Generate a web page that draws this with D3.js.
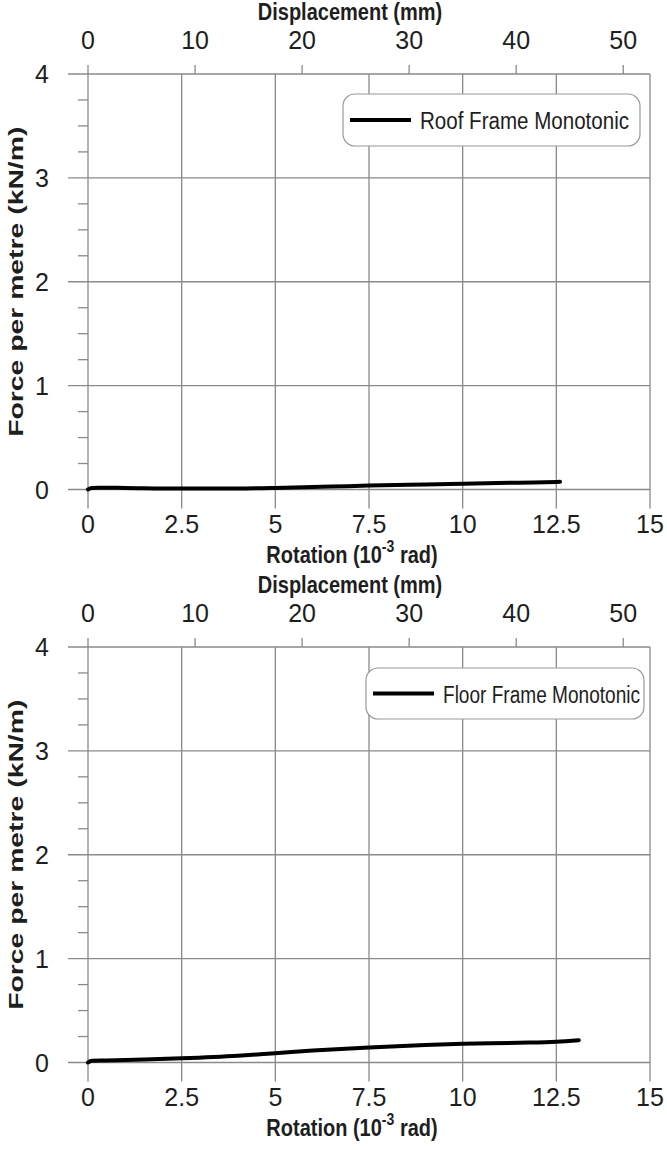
<!DOCTYPE html>
<html>
<head>
<meta charset="utf-8">
<script src="https://cdn.jsdelivr.net/npm/d3@7"></script>
<style>
  body { margin: 0; background: #fff; }
  svg text { font-family: "Liberation Sans", Arial, sans-serif; fill: #1e1e1e; }
  .tick-label { font-size: 25px; }
  .title { font-size: 20px; font-weight: bold; }
  .legend-text { font-size: 20px; }
</style>
</head>
<body>
<svg id="chart" width="667" height="1150"></svg>
<script>
// rotation (10^-3 rad) vs force per metre (kN/m)
const roofRotation = [0, 0.1, 0.3, 1, 2.5, 4, 5, 6.5, 7.5, 9, 10, 11.5, 12.5, 12.6];
const roofForce    = [0, 0.015, 0.018, 0.015, 0.009, 0.01, 0.015, 0.028, 0.038, 0.048, 0.055, 0.066, 0.073, 0.074];
const floorRotation = [0, 0.1, 0.5, 1.5, 2.5, 4, 5, 6, 7.5, 9, 10, 11.5, 12.5, 13.1];
const floorForce    = [0, 0.018, 0.02, 0.028, 0.04, 0.065, 0.09, 0.115, 0.145, 0.168, 0.18, 0.19, 0.2, 0.215];

const rotationTicks = [0, 2.5, 5, 7.5, 10, 12.5, 15];
const displacementTicks = [0, 10, 20, 30, 40, 50];
const forceTicks = [0, 1, 2, 3, 4];
const forceMinorTicks = d3.range(0, 4.01, 0.25).filter(v => v % 1 !== 0);
const mmPerRotation = 3.5; // 15e-3 rad <-> 52.5 mm

const panels = [
  {name: 'Roof Frame Monotonic', rot: roofRotation, force: roofForce, top: 74,
   legend: {x: 343, y: 94, w: 297, h: 52, textW: 209}},
  {name: 'Floor Frame Monotonic', rot: floorRotation, force: floorForce, top: 647,
   legend: {x: 366, y: 668, w: 278, h: 51, textW: 197}}
];

const svg = d3.select('#chart');
const left = 88, right = 650, plotH = 415.5;
const gridColour = '#8a8a8a';

// text placed at (x, y), optionally stretched vertically on screen
const label = (parent, x, y, cls, txt, anchor, sy) => {
  const t = parent.append('g')
    .attr('transform', `translate(${x},${y}) scale(1,${sy || 1})`)
    .append('text')
    .attr('class', cls)
    .attr('text-anchor', anchor || 'middle')
    .attr('dominant-baseline', 'central');
  if (txt != null) t.text(txt);
  return t;
};

panels.forEach(p => {
  const g = svg.append('g');
  const x = d3.scaleLinear().domain([0, 15]).range([left, right]);
  const xTop = d3.scaleLinear().domain([0, 15 * mmPerRotation]).range([left, right]);
  const y = d3.scaleLinear().domain([0, 4]).range([p.top + plotH, p.top]);
  const zero = y(0);

  // vertical grid + bottom ticks
  g.selectAll('line.vgrid').data(rotationTicks).join('line')
    .attr('class', 'vgrid')
    .attr('x1', d => x(d)).attr('x2', d => x(d))
    .attr('y1', p.top).attr('y2', zero + 19)
    .attr('stroke', gridColour).attr('stroke-width', 1.3);

  // horizontal grid + left ticks
  g.selectAll('line.hgrid').data(forceTicks).join('line')
    .attr('class', 'hgrid')
    .attr('x1', left - 20).attr('x2', right)
    .attr('y1', d => y(d)).attr('y2', d => y(d))
    .attr('stroke', gridColour).attr('stroke-width', 1.3);

  g.selectAll('line.minor').data(forceMinorTicks).join('line')
    .attr('class', 'minor')
    .attr('x1', left - 10).attr('x2', left)
    .attr('y1', d => y(d)).attr('y2', d => y(d))
    .attr('stroke', gridColour).attr('stroke-width', 1.3);

  // top displacement ticks
  g.selectAll('line.top').data(displacementTicks).join('line')
    .attr('class', 'top')
    .attr('x1', d => xTop(d)).attr('x2', d => xTop(d))
    .attr('y1', p.top - 9).attr('y2', p.top)
    .attr('stroke', gridColour).attr('stroke-width', 1.3);

  // tick labels
  rotationTicks.forEach(d => label(g, x(d), zero + 34, 'tick-label', d));
  displacementTicks.forEach(d => label(g, xTop(d), p.top - 34, 'tick-label', d));
  forceTicks.forEach(d => label(g, 49, y(d), 'tick-label', d, 'end'));

  // axis titles
  const rotTitle = label(g, 352, zero + 65, 'title', null, 'middle', 1.15);
  rotTitle.append('tspan').text('Rotation (10');
  rotTitle.append('tspan').attr('dy', -8).style('font-size', '14px').text('-3');
  rotTitle.append('tspan').attr('dy', 8).text(' rad)');

  label(g, 350, p.top - 62, 'title', 'Displacement (mm)', 'middle', 1.15);

  g.append('g')
    .attr('transform', `translate(15,${(p.top + zero) / 2}) scale(1,1.35) rotate(-90)`)
    .append('text').attr('class', 'title')
    .attr('text-anchor', 'middle').attr('dominant-baseline', 'central')
    .style('font-size', '21px')
    .text('Force per metre (kN/m)');

  // legend
  const lg = g.append('g');
  lg.append('rect')
    .attr('x', p.legend.x).attr('y', p.legend.y)
    .attr('width', p.legend.w).attr('height', p.legend.h)
    .attr('rx', 12).attr('ry', 12)
    .attr('fill', '#fff').attr('stroke', '#999').attr('stroke-width', 1.2);
  const ly = p.legend.y + p.legend.h / 2;
  lg.append('line')
    .attr('x1', p.legend.x + 7).attr('x2', p.legend.x + 68)
    .attr('y1', ly).attr('y2', ly)
    .attr('stroke', '#000').attr('stroke-width', 4);
  label(lg, p.legend.x + 77, ly + 1, 'legend-text', p.name, 'start', 1.15)
    .attr('textLength', p.legend.textW).attr('lengthAdjust', 'spacingAndGlyphs');

  // data line
  const pts = p.rot.map((r, i) => [r, p.force[i]]);
  g.append('path')
    .datum(pts)
    .attr('fill', 'none').attr('stroke', '#000')
    .attr('stroke-width', 4).attr('stroke-linecap', 'round')
    .attr('d', d3.line().x(d => x(d[0])).y(d => y(d[1])).curve(d3.curveMonotoneX));
});
</script>
</body>
</html>
